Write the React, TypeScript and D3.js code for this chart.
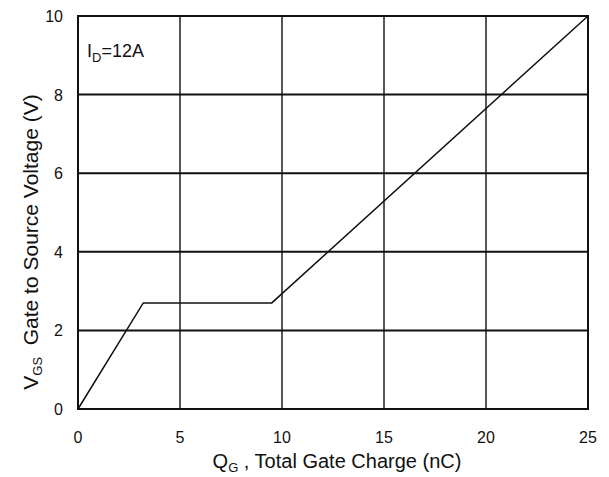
import React, { useRef, useEffect } from 'react';
import * as d3 from 'd3';

const chargeNC = [0, 3.2, 9.5, 25];
const gateVolts = [0, 2.7, 2.7, 10];
const xTicks = [0, 5, 10, 15, 20, 25];
const yTicks = [0, 2, 4, 6, 8, 10];

export default function App() {
  const ref = useRef<SVGSVGElement>(null);
  const width = 609;
  const height = 477;

  useEffect(() => {
    const svg = d3.select(ref.current);
    svg.selectAll('*').remove();
    const font = 'Liberation Sans, Arial, sans-serif';

    const x = d3.scaleLinear().domain([0, 25]).range([78, 588]);
    const y = d3.scaleLinear().domain([0, 10]).range([409, 16]);

    svg.append('rect').attr('width', width).attr('height', height).attr('fill', 'white');

    // grid
    svg.append('g').selectAll('line').data(xTicks.slice(1, -1)).join('line')
      .attr('x1', d => x(d)).attr('x2', d => x(d))
      .attr('y1', y(0)).attr('y2', y(10))
      .attr('stroke', '#111').attr('stroke-width', 1.4);
    svg.append('g').selectAll('line').data(yTicks.slice(1, -1)).join('line')
      .attr('x1', x(0)).attr('x2', x(25))
      .attr('y1', d => y(d)).attr('y2', d => y(d))
      .attr('stroke', '#111').attr('stroke-width', 2);

    svg.append('rect')
      .attr('x', x(0)).attr('y', y(10))
      .attr('width', x(25) - x(0)).attr('height', y(0) - y(10))
      .attr('fill', 'none').attr('stroke', '#111').attr('stroke-width', 2);

    // curve
    const pts = chargeNC.map((q, i) => [q, gateVolts[i]] as [number, number]);
    svg.append('path')
      .attr('d', d3.line().x(d => x(d[0])).y(d => y(d[1]))(pts))
      .attr('fill', 'none').attr('stroke', '#111').attr('stroke-width', 1.5);

    // tick labels
    svg.append('g').selectAll('text').data(xTicks).join('text')
      .attr('x', d => x(d)).attr('y', 443)
      .attr('text-anchor', 'middle')
      .style('font-family', font).style('font-size', '16px').attr('fill', '#111')
      .text(d => d);
    svg.append('g').selectAll('text').data(yTicks).join('text')
      .attr('x', 63).attr('y', d => y(d) + 6)
      .attr('text-anchor', 'end')
      .style('font-family', font).style('font-size', '16px').attr('fill', '#111')
      .text(d => d);

    // x title
    const xt = svg.append('text')
      .attr('x', 337).attr('y', 468).attr('text-anchor', 'middle')
      .style('font-family', font).style('font-size', '20px').attr('fill', '#111')
      .style('white-space', 'pre');
    xt.append('tspan').text('Q');
    xt.append('tspan').attr('dy', 4).style('font-size', '13px').text('G');
    xt.append('tspan').attr('dy', -4).text(' , Total Gate Charge (nC)');

    // y title
    const yt = svg.append('text')
      .attr('transform', `translate(38,242) rotate(-90)`)
      .attr('text-anchor', 'middle')
      .style('font-family', font).style('font-size', '21px').attr('fill', '#111')
      .style('white-space', 'pre');
    yt.append('tspan').text('V');
    yt.append('tspan').attr('dy', 4).style('font-size', '13px').text('GS');
    yt.append('tspan').attr('dy', -4).text('  Gate to Source Voltage (V)');

    // annotation
    const ann = svg.append('text')
      .attr('x', 87).attr('y', 57)
      .style('font-family', font).style('font-size', '18px').attr('fill', '#111');
    ann.append('tspan').text('I');
    ann.append('tspan').attr('dy', 5).style('font-size', '13px').text('D');
    ann.append('tspan').attr('dy', -5).text('=12A');
  }, []);

  return <svg ref={ref} width={width} height={height} style={{ position: 'absolute', left: 0, top: 0 }} />;
}
